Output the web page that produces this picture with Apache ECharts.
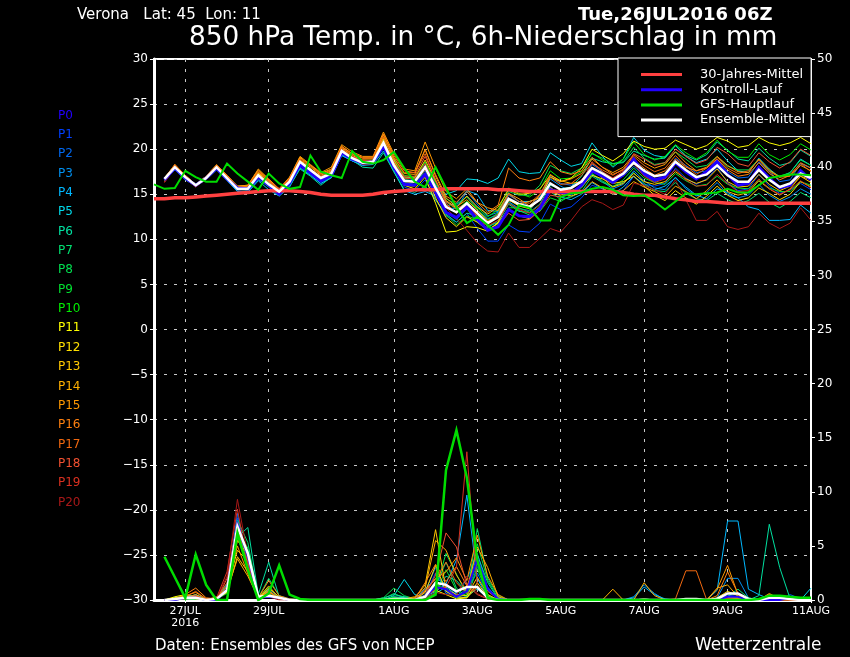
<!DOCTYPE html>
<html lang="de">
<head>
<meta charset="UTF-8">
<title>Verona 850 hPa Temp. und Niederschlag</title>
<script src="https://cdn.jsdelivr.net/npm/echarts@6/dist/echarts.min.js"></script>
<style>
  html, body { margin: 0; background: #000; }
  #chart { width: 850px; height: 657px; }
</style>
</head>
<body>
<div id="chart"></div>
<script>
// x axis: 6-hourly steps from 26JUL 06Z to 11AUG 00Z
var stepCount = 64;
var tickSteps = [3, 11, 23, 31, 39, 47, 55, 63];
var tickLabels = ['27JUL\n2016', '29JUL', '1AUG', '3AUG', '5AUG', '7AUG', '9AUG', '11AUG'];

var memberNames = ['P0','P1','P2','P3','P4','P5','P6','P7','P8','P9','P10','P11','P12','P13','P14','P15','P16','P17','P18','P19','P20'];
var memberColors = ['#2200ff','#0040ff','#0068f0','#0090f0','#00b8ff','#00d8e8','#00e0a0','#00e070','#00e050','#00e030','#00f000',
  '#ffff00','#ffe000','#ffc800','#ffb000','#ff9800','#ff8010','#f06810','#f05030','#d83020','#a81818'];

// 850 hPa temperature, steps 1..63
var tempMembers = [
[16.6,17.9,16.8,16.0,16.8,17.9,16.7,15.7,15.6,16.9,16.0,15.0,16.2,18.3,17.4,16.5,17.1,19.6,18.9,18.5,18.6,20.3,18.0,16.1,16.0,17.2,15.2,13.0,12.4,13.6,12.2,11.0,11.4,13.3,12.6,12.5,13.4,15.5,15.2,15.1,16.0,17.6,17.0,16.3,17.2,18.9,17.3,16.6,16.9,18.5,17.5,16.7,17.5,18.6,17.2,16.0,16.2,18.0,16.8,15.7,16.0,17.6,16.6],
[16.6,17.8,16.8,16.0,16.7,17.8,16.7,15.8,15.9,17.0,15.9,15.0,16.1,18.0,17.2,16.2,16.9,19.3,18.7,18.2,18.5,20.1,17.7,15.8,15.4,16.6,14.4,12.6,11.9,12.9,11.2,9.8,9.8,11.6,10.9,10.8,11.8,13.9,13.3,13.6,14.6,16.0,15.6,15.0,15.4,17.0,16.1,15.9,16.2,17.9,16.8,16.1,16.7,18.0,16.3,15.4,15.6,17.2,15.9,15.1,15.5,16.2,15.5],
[16.7,17.9,16.9,16.1,16.8,17.9,16.8,15.7,15.7,17.2,16.3,15.4,16.4,18.4,17.6,16.8,17.2,19.6,18.9,18.4,18.4,20.5,18.5,16.8,16.6,18.5,16.1,14.1,13.7,14.8,13.6,12.3,12.7,14.9,14.2,13.7,14.8,17.0,16.2,16.0,16.5,18.3,17.5,16.5,17.0,18.1,17.1,16.4,16.8,19.0,18.2,17.4,17.6,18.8,17.5,16.8,16.9,18.6,17.5,16.4,16.6,18.4,17.9],
[16.6,17.8,16.7,15.9,16.7,17.9,16.6,15.4,15.3,16.6,15.9,15.0,16.0,18.2,17.3,16.4,16.9,19.4,18.7,18.3,18.3,20.2,18.3,16.3,16.1,17.6,15.4,13.5,13.4,15.3,13.9,12.6,13.0,14.2,13.4,13.2,14.6,16.7,15.9,15.3,15.9,17.2,16.4,15.6,16.1,17.6,16.5,15.7,15.5,16.9,15.6,14.8,15.2,16.3,15.0,14.6,14.9,16.1,14.9,14.2,14.7,15.6,15.0],
[16.5,17.7,16.6,15.9,16.6,17.7,16.5,15.3,15.2,16.5,15.5,14.8,15.8,17.9,17.1,16.2,16.8,19.3,18.7,18.2,18.3,19.8,17.5,15.4,15.0,15.3,14.8,13.7,14.0,15.4,15.0,13.2,13.1,15.1,14.2,14.2,14.6,15.8,14.7,14.4,15.0,16.3,15.6,15.0,15.8,17.0,16.0,15.5,15.9,16.8,15.8,14.9,14.5,15.6,15.2,14.6,13.6,13.3,12.1,12.1,12.2,13.8,12.9],
[16.6,17.8,16.8,16.0,16.7,17.9,16.8,15.6,15.5,16.9,16.2,15.2,16.3,18.3,17.6,16.7,17.3,19.7,19.1,18.6,18.7,20.4,18.7,16.9,16.8,17.9,16.0,15.0,15.4,16.7,16.6,16.2,16.8,18.9,17.5,17.3,17.4,19.6,18.8,18.1,18.4,20.7,19.2,18.0,18.9,21.3,19.9,19.3,19.1,20.4,19.2,18.5,18.9,20.0,18.7,17.6,17.4,19.0,17.8,16.9,17.4,18.9,18.2],
[16.6,17.7,16.7,16.0,16.7,17.8,16.7,15.6,15.4,16.7,15.8,14.8,15.9,17.8,17.0,16.0,16.9,19.4,18.8,18.0,17.9,19.6,17.5,15.5,15.2,15.9,14.4,12.8,11.9,12.9,12.6,11.4,11.9,13.9,13.1,13.0,13.9,16.0,15.6,15.8,17.0,19.0,18.6,18.4,18.5,19.8,19.3,18.9,19.0,20.4,19.3,18.8,19.4,20.8,19.9,18.9,18.7,20.1,19.0,18.2,18.5,19.9,19.2],
[16.7,17.9,16.9,16.1,16.8,17.9,16.8,15.7,15.7,17.0,16.1,15.3,16.3,18.5,17.6,16.7,17.2,19.7,18.9,18.4,18.4,20.3,18.1,16.6,16.5,18.1,15.5,13.1,12.2,13.4,11.9,11.3,12.1,14.1,13.2,12.7,13.6,15.3,14.4,14.7,15.3,17.0,16.3,15.9,16.3,17.4,16.2,15.4,15.3,16.3,15.1,14.5,14.3,15.1,14.4,13.9,14.3,15.1,14.1,13.5,14.2,15.2,14.6],
[16.7,18.0,16.9,16.0,16.8,18.0,16.8,15.6,15.6,17.1,16.2,15.4,16.5,18.5,17.7,16.8,17.3,19.8,19.0,18.5,18.7,20.6,18.6,16.9,16.7,18.4,16.5,14.5,13.9,14.7,13.3,12.2,12.9,15.3,14.9,14.9,16.0,18.2,17.6,17.3,17.9,19.5,19.0,18.4,18.6,20.2,19.0,18.3,18.5,19.7,18.9,18.0,18.2,19.2,18.1,17.7,17.7,18.9,17.6,17.0,17.4,18.8,18.2],
[16.7,17.9,16.9,16.1,16.8,17.9,16.8,15.7,15.8,17.2,16.3,15.4,16.4,18.5,17.6,16.8,17.4,19.7,19.0,18.4,18.6,20.6,18.4,16.3,16.0,17.8,15.3,12.7,11.6,12.6,12.2,11.1,11.7,13.5,13.5,13.0,13.1,14.6,14.2,14.9,15.7,17.3,16.5,15.8,16.6,17.9,16.8,16.3,16.1,17.3,16.5,15.9,16.1,17.0,16.1,15.7,15.6,16.5,15.7,15.3,15.3,16.4,16.0],
[16.7,18.0,17.0,16.1,16.9,18.0,16.9,15.7,15.7,17.2,16.2,15.4,16.5,18.6,17.7,16.8,17.3,19.8,19.0,18.5,18.7,20.8,18.9,17.1,16.9,18.6,16.3,14.2,13.3,14.2,13.5,12.5,13.3,15.7,15.1,14.7,15.5,17.6,16.7,16.8,17.5,19.6,18.8,18.2,18.9,20.8,19.4,18.8,19.2,20.5,19.6,18.9,19.6,21.0,19.8,19.1,19.1,20.6,19.4,18.8,19.4,20.6,19.9],
[16.7,18.0,16.9,16.0,16.8,18.1,16.9,15.6,15.6,17.3,16.2,15.3,16.5,18.7,17.8,16.8,17.4,19.9,19.1,18.6,18.7,20.9,18.6,16.0,15.6,16.9,14.0,10.8,10.9,11.4,11.3,10.9,11.9,14.4,13.7,13.4,14.4,16.9,16.4,16.8,17.9,20.0,19.3,18.7,19.5,20.9,20.3,20.0,20.1,21.0,20.5,20.0,20.4,21.3,20.9,20.2,20.4,21.3,20.7,20.4,20.7,21.3,20.6],
[16.7,18.1,17.0,16.0,16.9,18.1,16.9,15.8,15.9,17.4,16.4,15.4,16.6,18.7,17.8,16.9,17.5,20.0,19.1,18.6,18.7,21.1,18.2,16.0,15.9,17.3,14.6,12.4,11.4,12.5,11.9,11.0,11.8,13.4,12.6,12.3,13.2,15.3,14.9,15.4,15.8,17.1,16.7,16.2,16.4,17.0,15.9,14.9,14.3,15.4,14.6,13.9,14.8,15.9,14.9,14.3,14.6,15.7,15.1,14.4,15.0,16.4,15.8],
[16.8,18.1,17.0,16.1,16.9,18.1,17.0,15.8,15.8,17.4,16.5,15.5,16.6,18.8,18.0,17.1,17.6,20.1,19.3,18.8,18.8,21.3,18.8,16.8,16.8,18.8,16.5,14.3,13.5,14.8,13.6,12.8,13.6,15.5,15.0,15.1,15.6,17.1,16.5,16.2,16.4,17.8,16.8,15.8,16.2,17.3,16.4,16.1,16.4,17.5,16.7,16.2,16.6,17.8,16.4,15.8,15.9,17.2,16.1,15.4,15.9,17.0,16.3],
[16.8,18.2,17.1,16.1,17.0,18.2,17.1,15.9,16.0,17.7,16.6,15.6,16.8,19.1,18.2,17.3,17.8,20.3,19.5,19.0,19.0,21.6,19.1,17.3,17.2,20.0,17.0,14.6,13.6,14.4,13.2,12.1,12.4,14.3,13.9,14.2,14.6,15.7,15.1,14.8,15.2,16.4,15.7,15.0,15.4,16.4,15.8,15.3,14.7,15.9,15.3,14.5,15.4,16.6,15.3,14.9,15.2,16.5,15.6,14.9,15.6,17.0,16.6],
[16.8,18.3,17.1,16.1,17.0,18.3,17.1,15.9,16.0,17.8,16.7,15.6,16.9,19.2,18.3,17.4,18.0,20.5,19.7,19.2,19.2,21.9,19.5,17.8,17.6,20.8,17.9,15.3,14.5,15.6,14.1,13.5,13.2,15.1,14.5,13.7,14.9,17.2,16.4,16.7,17.3,18.9,18.0,17.4,18.0,19.4,18.5,17.9,18.3,19.7,18.5,17.6,18.0,19.2,18.2,17.5,17.4,18.9,17.7,16.9,17.0,18.2,17.6],
[16.7,18.3,17.0,16.0,16.9,18.2,17.1,15.8,15.9,17.6,16.6,15.5,16.8,19.0,18.2,17.3,17.7,20.3,19.5,19.1,19.1,21.7,19.3,17.6,17.4,19.9,17.2,14.8,14.1,15.3,14.1,13.0,13.8,17.9,16.8,16.5,16.8,18.6,17.5,17.2,17.6,19.1,18.0,17.2,17.7,18.8,17.9,17.1,17.6,18.9,18.0,17.6,17.9,18.9,17.7,17.0,17.2,18.5,17.3,16.6,17.1,18.5,17.9],
[16.6,18.2,16.9,16.0,16.9,18.2,17.0,15.8,15.8,17.5,16.5,15.6,16.7,18.9,18.1,17.2,17.7,20.2,19.4,19.0,19.0,21.4,19.0,17.4,17.4,19.5,16.6,14.0,12.9,13.9,12.7,11.9,12.8,15.0,14.2,14.0,15.0,16.9,16.1,16.2,17.1,18.4,17.7,17.1,17.8,19.2,18.2,17.5,17.9,19.3,18.1,17.2,17.9,19.1,17.9,17.3,17.6,18.8,17.5,16.9,17.2,18.4,17.5],
[16.4,18.0,16.8,15.9,16.8,18.0,16.8,15.6,15.7,17.2,16.4,15.6,16.6,18.7,17.8,17.0,17.5,20.0,19.2,18.8,18.7,20.9,18.6,17.0,17.0,19.2,16.6,14.2,13.4,14.0,12.5,11.0,11.5,12.9,12.1,12.2,13.2,14.9,14.7,15.1,16.1,18.6,17.5,16.8,17.4,19.5,18.9,18.2,18.5,20.0,19.2,18.4,18.8,20.2,19.5,18.4,18.1,19.6,18.6,17.9,18.6,20.0,19.3],
[16.3,17.9,16.7,15.8,16.7,17.9,16.7,15.5,15.5,17.0,16.2,15.4,16.4,18.5,17.6,16.9,17.4,19.8,19.1,18.7,18.6,20.7,18.3,16.8,16.7,18.4,15.9,13.8,13.0,13.7,12.1,11.5,12.1,14.0,13.3,12.9,13.8,15.6,15.0,15.6,16.6,18.0,17.3,16.8,17.6,18.4,17.0,16.3,16.7,17.7,16.6,15.9,16.0,17.2,16.2,15.3,15.4,16.7,15.6,15.0,15.5,16.5,15.7],
[16.4,17.9,16.7,15.9,16.6,17.8,16.7,15.6,15.6,17.0,16.1,15.3,16.4,18.3,17.5,16.7,17.2,19.6,18.9,18.3,18.4,20.4,18.0,16.4,16.3,17.7,15.8,13.5,12.3,11.0,9.6,8.7,8.6,10.7,9.1,9.1,10.1,11.2,10.8,12.1,13.6,14.4,14.0,13.3,13.8,16.2,16.0,15.5,15.0,16.6,14.4,12.1,12.1,13.1,11.4,11.1,11.4,12.9,11.8,11.2,11.8,13.5,12.1]
];
var tempMean = [16.7,18.0,16.9,16.0,16.8,18.0,16.8,15.6,15.6,17.1,16.1,15.3,16.4,18.6,17.7,16.8,17.3,19.8,19.0,18.5,18.6,20.7,18.2,16.5,16.4,18.0,15.7,13.6,13.0,14.0,12.9,11.8,12.5,14.5,13.9,13.6,14.4,16.2,15.5,15.7,16.4,17.9,17.3,16.6,17.3,18.5,17.6,17.0,17.2,18.6,17.7,16.9,17.2,18.2,17.1,16.4,16.4,17.7,16.6,15.8,16.2,17.3,16.8];
// steps 0..63
var tempGfs = [16.1,15.6,15.7,17.6,16.9,16.4,16.4,18.4,17.3,16.4,15.5,17.3,16.2,15.6,15.8,19.3,17.5,17.1,16.8,19.8,18.6,18.4,18.8,19.7,17.9,16.4,15.8,18.0,15.7,13.6,11.8,12.5,11.6,10.5,11.6,13.8,13.5,12.1,12.1,14.7,15.1,15.2,15.6,15.8,15.5,14.9,14.8,14.9,14.2,13.3,14.2,15.1,15.0,15.1,15.2,15.6,15.2,15.2,16.0,16.8,17.0,17.2,17.2,17.1];
var tempClimate = [14.5,14.5,14.6,14.6,14.7,14.8,14.9,15.0,15.1,15.2,15.3,15.4,15.4,15.4,15.3,15.2,15.0,14.9,14.9,14.9,14.9,15.0,15.2,15.3,15.4,15.5,15.5,15.5,15.6,15.6,15.6,15.6,15.6,15.5,15.5,15.4,15.3,15.3,15.3,15.3,15.3,15.3,15.3,15.3,15.3,15.2,15.0,14.9,14.9,14.7,14.5,14.4,14.2,14.2,14.1,14.0,14.0,14.0,14.0,14.0,14.0,14.0,14.0,14.0];

// 6h precipitation, three wet spells per member, dry steps in between
// steps 1..13
var rainEarly = [
[0,0,.2,.2,0,0,1.0,7.0,4.0,.2,.3,.2,0],
[0,.1,.3,.1,0,0,.8,7.6,3.5,.1,.5,.1,0],
[0,.1,.2,.2,0,.1,1.2,8.0,3.2,.2,.8,.2,0],
[0,.2,.3,.3,0,.1,1.4,7.3,2.8,.1,1.0,.3,0],
[0,0,.4,.4,0,0,.9,6.5,3.0,.2,.7,.2,0],
[0,.1,.2,.5,.1,0,1.0,6.8,4.5,.3,.9,.1,0],
[0,.2,.4,.2,0,.2,1.5,5.8,6.7,.5,3.5,.3,0],
[0,0,.1,.1,0,.1,1.1,7.4,5.3,.2,2.0,.4,.1],
[0,.1,.2,.3,0,0,.7,6.4,4.8,.2,1.2,.2,0],
[0,.1,.1,.1,0,.1,.6,6.9,3.9,.1,.6,.1,0],
[0,0,.3,.3,.1,0,1.0,6.3,3.4,.3,.4,.2,0],
[0,.3,.5,.2,0,.2,.8,5.5,4.2,.2,.5,.2,0],
[0,.2,.3,.1,0,.3,1.0,4.6,3.6,.2,.8,.1,0],
[0,.1,.2,.3,.1,.1,.7,4.0,2.6,.1,1.1,.3,0],
[0,.1,.2,.5,0,.2,.9,3.8,2.2,.2,1.3,.2,0],
[0,0,.4,.7,.1,.1,1.2,5.0,2.4,.1,.9,.1,0],
[0,.1,.5,1.1,.2,.1,1.3,5.9,2.9,.2,1.8,.4,.1],
[0,.1,.3,.8,.1,.2,1.6,6.6,3.1,.1,.7,.2,0],
[0,0,.2,.4,0,0,2.0,7.2,3.7,.2,.5,.1,0],
[0,.1,.2,.3,0,.2,2.6,8.4,3.3,.1,.4,.1,0],
[0,0,.1,.2,0,.1,2.2,9.3,4.1,.2,.3,0,0]
];
// steps 22..34
var rainMid = [
[0,0,0,0,.3,1.2,1.0,.3,.8,3.8,1.0,.1,0],
[0,.1,0,0,.5,2.5,.8,.2,.3,3.1,1.2,.1,0],
[0,0,.1,0,.8,3.0,.6,.4,1.0,2.5,.4,0,0],
[.1,.2,.3,.1,1.0,2.0,1.5,.6,1.9,4.3,1.1,.2,0],
[0,.3,.2,0,.3,.8,1.5,3.7,9.7,2.0,.2,0,0],
[0,.4,1.9,.5,.2,.6,1.2,.5,.4,1.0,.2,0,0],
[.2,.5,.3,0,.1,.7,2.2,1.8,.7,4.2,1.6,.1,0],
[.1,.6,.2,0,.4,1.3,3.5,1.1,.3,6.6,2.0,.4,0],
[.2,1.1,.4,.1,.2,1.0,4.3,2.4,.5,5.2,1.8,.2,0],
[0,.3,.1,0,.2,.6,2.8,.9,.2,2.9,.5,0,0],
[0,.2,0,0,.3,1.5,.9,.2,.6,3.4,.9,.1,0],
[0,0,0,.1,.4,.9,.5,.1,.2,1.6,.3,0,0],
[0,0,0,0,.7,3.2,.8,.3,.2,1.2,.1,0,0],
[0,.1,0,.2,1.4,6.5,1.0,.5,.4,2.1,.5,0,0],
[0,0,.1,.3,1.1,5.5,4.6,2.3,.8,4.9,3.0,.3,0],
[0,0,0,.2,.8,2.0,2.6,3.9,1.8,6.0,2.2,.5,0],
[0,.1,0,.1,1.6,3.3,1.7,3.1,1.3,3.6,.8,.1,0],
[0,0,0,0,.9,1.9,3.5,1.6,.6,1.2,.3,0,0],
[0,0,.1,0,.4,2.3,6.2,4.9,1.4,.5,.1,0,0],
[0,0,0,0,.2,1.0,1.2,3.0,13.7,1.3,.2,0,0],
[0,0,0,0,.1,.7,.5,.4,2.2,.6,.1,0,0]
];
// steps 42..63
var rainLate = [
[0,0,0,0,0,0,0,0,0,0,0,0,0,.3,.3,0,0,0,0,.2,0,0],
[0,0,0,0,0,0,0,0,0,0,0,0,0,.2,.2,0,0,0,0,.5,.1,0],
[0,0,0,0,0,.1,0,0,0,0,0,0,0,.4,.5,0,0,0,0,0,0,0],
[0,0,0,0,.3,1.4,.6,0,0,0,0,0,.2,2.0,2.0,.2,0,0,0,.1,0,0],
[0,0,0,0,.2,1.2,.5,.1,0,0,0,0,.9,7.3,7.3,1.0,.5,.1,0,0,0,0],
[0,0,0,0,0,.1,0,0,0,0,0,0,0,.2,.1,0,0,0,0,0,0,1.1],
[0,0,0,0,0,0,0,0,0,0,0,0,0,.1,.2,0,.4,7.0,3.0,.1,0,0],
[0,0,0,0,0,0,0,0,0,0,0,0,0,.3,1.0,.2,0,.2,0,0,0,0],
[0,0,0,0,0,0,0,0,0,0,0,0,0,.2,.3,0,0,0,0,0,0,0],
[0,0,0,0,0,0,0,0,0,0,0,0,0,.1,.2,.1,0,.1,0,0,0,0],
[0,0,0,0,0,0,0,0,0,0,0,0,0,.1,.1,0,0,.2,.1,0,0,0],
[0,0,0,0,0,0,0,0,0,0,0,0,0,.2,.2,0,0,0,0,0,0,0],
[0,0,0,0,0,0,0,0,0,0,0,0,.2,.8,.4,0,0,0,0,.2,0,0],
[0,0,0,0,0,0,0,0,0,0,0,0,0,.3,.1,0,0,.5,.2,0,0,0],
[0,0,1.0,0,0,1.6,.4,0,0,0,0,0,1.1,1.4,.3,0,0,.3,0,0,0,0],
[0,0,0,0,0,.1,0,0,0,0,0,0,1.0,3.2,.5,0,0,.6,.1,0,0,0],
[0,0,0,0,0,0,0,0,0,0,0,0,.4,2.6,.6,0,0,0,0,0,0,0],
[0,0,0,0,0,0,0,0,.1,2.7,2.7,0,0,.1,0,0,0,0,0,0,0,0],
[0,0,0,0,0,0,0,0,0,0,0,0,0,.1,.1,0,0,0,0,0,0,0],
[0,0,0,0,0,0,0,0,0,0,0,0,0,.1,0,0,0,0,0,0,0,0],
[0,0,0,0,0,0,0,0,0,0,0,0,0,0,0,0,0,0,0,0,0,0]
];
// steps 1..63
var rainMean = [0,.1,.2,.2,0,.1,.9,6.8,4.3,.3,.4,.2,0,0,0,0,0,0,0,0,0,0,.1,.1,0,.3,1.6,1.4,.8,1.2,1.2,.2,0,0,0,0,0,0,0,0,0,0,0,0,0,0,0,0,0,0,.1,.1,0,.1,.6,.6,.1,0,.2,.2,.1,0,0];
var rainGfs = [4.0,2.1,.2,4.2,1.4,0,0,6.2,2.8,0,.6,3.2,.5,.1,0,0,0,0,0,0,0,0,0,0,0,0,.5,12.0,15.7,11.3,3.7,.2,0,0,0,.1,.1,0,0,0,0,0,0,0,0,0,0,0,0,0,0,0,0,0,0,0,0,.1,.4,.4,.3,.2,.2];

var tempTicks = [-30, 30, 5];
var rainTicks = [0, 50, 5];

// put a member's wet spells on the full time line
function rainFor(i) {
    var out = [null];
    for (var s = 1; s < stepCount; s++) out.push(0);
    rainEarly[i].forEach(function (v, k) { out[1 + k] = v; });
    rainMid[i].forEach(function (v, k) { out[22 + k] = v; });
    rainLate[i].forEach(function (v, k) { out[42 + k] = v; });
    return out;
}

function line(name, data, color, width, axis) {
    return {
        name: name, type: 'line', data: data, yAxisIndex: axis,
        symbol: 'none', silent: true, animation: false,
        lineStyle: { color: color, width: width, cap: 'butt', join: 'miter' }, itemStyle: { color: color }
    };
}

var series = [];
memberNames.forEach(function (name, i) {
    series.push(line(name, [null].concat(tempMembers[i]), memberColors[i], 1, 0));
    series.push(line(name, rainFor(i), memberColors[i], 1, 1));
});
series.push(line('Kontroll-Lauf', [null].concat(tempMembers[0]), '#2200ff', 3, 0));
series.push(line('Kontroll-Lauf', rainFor(0), '#2200ff', 2, 1));
series.push(line('30-Jahres-Mittel', tempClimate, '#ff4040', 3.5, 0));
series.push(line('Ensemble-Mittel', [null].concat(tempMean), '#ffffff', 2.5, 0));
series.push(line('Ensemble-Mittel', [null].concat(rainMean), '#ffffff', 2.5, 1));
series.push(line('GFS-Hauptlauf', tempGfs, '#00dd00', 2, 0));
series.push(line('GFS-Hauptlauf', [null].concat(rainGfs), '#00dd00', 2.5, 1));

var categories = [];
for (var s = 0; s < stepCount; s++) {
    var t = tickSteps.indexOf(s);
    categories.push(t >= 0 ? tickLabels[t] : String(s));
}
function isTick(i) { return tickSteps.indexOf(i) >= 0; }

var stroke = 'DejaVu Sans';
var gridDots = { show: true, lineStyle: { color: '#c8c8c8', type: [3, 7], width: 1 } };

var chart = echarts.init(document.getElementById('chart'));
chart.setOption({
    backgroundColor: '#000',
    animation: false,
    textStyle: { fontFamily: stroke },
    title: [
        { text: 'Verona   Lat: 45  Lon: 11', left: 77, top: 8, padding: 0, textStyle: { color: '#fff', fontSize: 15, fontWeight: 'normal', fontFamily: stroke } },
        { text: 'Tue,26JUL2016 06Z', left: 578, top: 6, padding: 0, textStyle: { color: '#fff', fontSize: 18, fontWeight: 'bold', fontFamily: stroke } },
        { text: '850 hPa Temp. in °C, 6h-Niederschlag in mm', left: 189, top: 25, padding: 0, textStyle: { color: '#fff', fontSize: 26.3, fontWeight: 'normal', fontFamily: stroke } },
        { text: 'Daten: Ensembles des GFS von NCEP', left: 155, top: 639, padding: 0, textStyle: { color: '#fff', fontSize: 15, fontWeight: 'normal', fontFamily: stroke } },
        { text: 'Wetterzentrale', left: 695, top: 637, padding: 0, textStyle: { color: '#fff', fontSize: 17, fontWeight: 'normal', fontFamily: stroke } }
    ],
    legend: [
        {
            data: ['30-Jahres-Mittel', 'Kontroll-Lauf', 'GFS-Hauptlauf', 'Ensemble-Mittel'],
            orient: 'vertical', left: 618, top: 58, align: 'left',
            backgroundColor: '#000', borderColor: '#fff', borderWidth: 1,
            padding: [10, 6, 10, 23], itemGap: 2.2, itemWidth: 41, itemHeight: 3,
            selectedMode: false, icon: 'rect', z: 20,
            textStyle: { color: '#fff', fontSize: 13, padding: [0, 0, 0, 13] }
        },
        {
            data: memberNames.map(function (name, i) {
                return { name: name, icon: 'none', textStyle: { color: memberColors[i] } };
            }),
            orient: 'vertical', left: 53, top: 108, padding: 0, itemGap: 5.85, itemWidth: 0, itemHeight: 15,
            selectedMode: false, textStyle: { fontSize: 12 }
        }
    ],
    grid: { left: 154, right: 39, top: 59, bottom: 57, show: true, borderColor: '#fff', borderWidth: 2, containLabel: false },
    xAxis: {
        type: 'category', data: categories, boundaryGap: false,
        axisLine: { show: true, onZero: false, lineStyle: { color: '#fff', width: 3 } },
        axisTick: { show: true, length: 3, interval: function (i) { return isTick(i); }, lineStyle: { color: '#fff' } },
        axisLabel: {
            color: '#fff', fontSize: 11, margin: 5, lineHeight: 12, hideOverlap: false,
            interval: function (i) { return isTick(i); }
        },
        splitLine: { show: true, interval: function (i) { return isTick(i); }, lineStyle: gridDots.lineStyle }
    },
    yAxis: [
        {
            type: 'value', min: tempTicks[0], max: tempTicks[1], interval: tempTicks[2], position: 'left',
            axisLine: { show: true, lineStyle: { color: '#fff', width: 3 } },
            axisTick: { show: true, length: 4, lineStyle: { color: '#fff' } },
            axisLabel: { color: '#fff', fontSize: 12, margin: 6, formatter: function (v) { return String(v).replace('-', '\u2212'); } },
            splitLine: gridDots
        },
        {
            type: 'value', min: rainTicks[0], max: rainTicks[1], interval: rainTicks[2], position: 'right',
            axisLine: { show: true, lineStyle: { color: '#fff', width: 2 } },
            axisTick: { show: true, length: 4, lineStyle: { color: '#fff' } },
            axisLabel: { color: '#fff', fontSize: 12, margin: 6 },
            splitLine: { show: false }
        }
    ],
    series: series
});
</script>
</body>
</html>
